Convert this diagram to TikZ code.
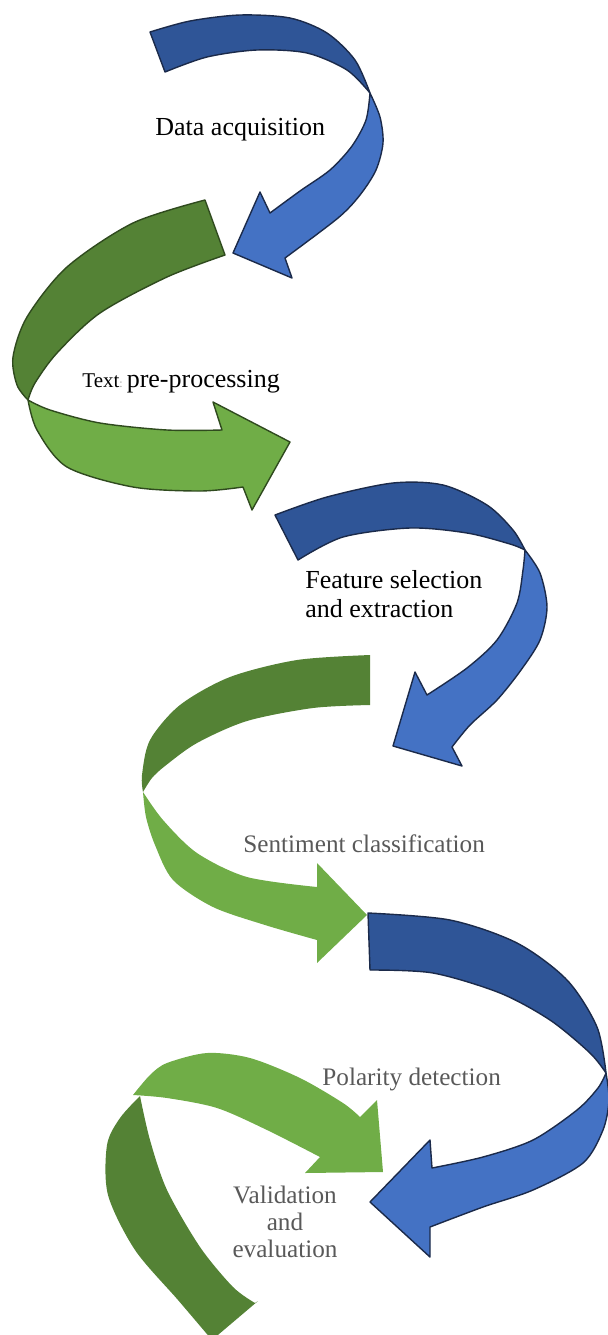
\documentclass[tikz,border=0pt]{standalone}
\usepackage{fontspec}
\setmainfont{Liberation Serif}
\newfontfamily\labelfont{Liberation Serif}
\definecolor{darkblue}{HTML}{2F5597}
\definecolor{lightblue}{HTML}{4472C4}
\definecolor{rimblue}{HTML}{1B2A4A}
\definecolor{darkgreen}{HTML}{548235}
\definecolor{lightgreen}{HTML}{70AD47}
\definecolor{rimgreen}{HTML}{2F4A1E}
\definecolor{labelgray}{HTML}{595959}
\begin{document}
\begin{tikzpicture}[x=0.5pt, y=-0.5pt, line join=round,
    backblue/.style={fill=darkblue, draw=rimblue, line width=0.7pt},
    frontblue/.style={fill=lightblue, draw=rimblue, line width=0.7pt},
    backgreen/.style={fill=darkgreen},
    frontgreen/.style={fill=lightgreen},
    rimmed/.style={draw=rimgreen, line width=0.7pt},
    lbl/.style={inner sep=0pt, font=\labelfont\fontsize{13}{14.5}\selectfont},
    graylbl/.style={lbl, text=labelgray, font=\labelfont\fontsize{12.6}{13.5}\selectfont}]
        \useasboundingbox (0,0) rectangle (608,1335);
        \clip (0,0) rectangle (608,1335);
        % data acquisition
        \filldraw [backblue] plot [smooth] coordinates {(150,32) (190,21) (240,15) (290,18) (327,33) (355,60) (370,93)}
            -- plot [smooth] coordinates {(370,93) (347,70) (307,53) (257,50) (207,57) (165,72)} -- cycle;
        \filldraw [frontblue] plot [smooth] coordinates {(370,93) (380,117) (383,143) (376,170) (360,195) (338,218) (285,258)}
            -- (292,278) -- (233,253) -- (260,192) -- (270,213)
            -- plot [smooth] coordinates {(270,213) (300,191) (330,170) (352,146) (366,120) (370,93)} -- cycle;
        % text pre-processing
        \filldraw [backgreen, rimmed] plot [smooth] coordinates {(205,200) (133,223) (67,267) (27,317) (13,357) (17,385) (28,400)}
            -- plot [smooth] coordinates {(28,400) (35,383) (57,353) (100,313) (167,277) (225,255)} -- cycle;
        \filldraw [frontgreen, rimmed] plot [smooth] coordinates {(28,400) (37,430) (67,467) (133,487) (200,491) (243,487)}
            -- (252,510) -- (290,442) -- (213,402) -- (222,430)
            -- plot [smooth] coordinates {(222,430) (167,430) (100,423) (50,410) (28,400)} -- cycle;
        % feature selection
        \filldraw [backblue] plot [smooth] coordinates {(275,515) (327,497) (393,483) (443,485) (487,505) (513,530) (525,550)}
            -- plot [smooth] coordinates {(525,550) (510,544) (467,533) (410,528) (343,537) (298,560)} -- cycle;
        \filldraw [frontblue] plot [smooth] coordinates {(525,550) (540,573) (547,607) (540,640) (521,670) (497,700) (470,725) (452,747)}
            -- (462,766) -- (393,746) -- (415,672) -- (427,695)
            -- plot [smooth] coordinates {(427,695) (467,668) (497,640) (517,603) (523,570) (525,550)} -- cycle;
        % sentiment classification
        \fill [backgreen] plot [smooth] coordinates {(370,655) (297,660) (230,677) (180,705) (150,740) (142,775) (143,792)}
            -- plot [smooth] coordinates {(143,792) (152,778) (165,766) (197,743) (247,721) (313,708) (370,705)} -- cycle;
        \fill [frontgreen] plot [smooth] coordinates {(143,792) (146,817) (155,845) (173,880) (213,907) (265,925) (317,940)}
            -- (317,963) -- (367,915) -- (317,863) -- (317,887)
            -- plot [smooth] coordinates {(317,887) (247,877) (197,853) (163,820) (143,792)} -- cycle;
        % polarity detection
        \filldraw [backblue] plot [smooth] coordinates {(368,913) (450,920) (517,943) (567,980) (597,1027) (606,1073)}
            -- plot [smooth] coordinates {(606,1073) (590,1053) (550,1020) (500,993) (433,973) (370,970)} -- cycle;
        \filldraw [frontblue] plot [smooth] coordinates {(606,1073) (609,1100) (603,1130) (583,1163) (533,1190) (483,1207) (430,1227)}
            -- (430,1257) -- (370,1202) -- (430,1140) -- (432,1168)
            -- plot [smooth] coordinates {(432,1168) (483,1157) (533,1140) (577,1110) (598,1088) (606,1073)} -- cycle;
        % validation and evaluation
        \fill [backgreen] plot [smooth] coordinates {(140,1096) (120,1118) (107,1145) (108,1195) (135,1250) (178,1300) (212,1340)}
            -- (258,1301)
            -- plot [smooth] coordinates {(255,1303) (233,1287) (200,1247) (167,1190) (150,1140) (140,1096)} -- cycle;
        \fill [frontgreen] plot [smooth] coordinates {(133,1095) (150,1075) (167,1063) (207,1053) (250,1058) (300,1078) (343,1103) (360,1117)}
            -- (377,1100) -- (383,1172) -- (305,1173) -- (320,1157)
            -- plot [smooth] coordinates {(320,1157) (267,1130) (217,1108) (167,1098) (133,1095)} -- cycle;
        % labels
        \node [lbl, anchor=base west] (acquisition) at (155,135) {Data acquisition};
        \node [lbl, anchor=base west] (preprocessing) at (82,387)
            {{\fontsize{10.5}{12}\selectfont Text}{\color{labelgray!60}\fontsize{6}{7}\selectfont:}\hspace{2pt}pre-processing};
        \node [lbl, anchor=north west, align=left] (extraction) at (305,570) {Feature selection\\and extraction};
        \node [graylbl, anchor=base west] (classification) at (243,852) {Sentiment classification};
        \node [graylbl, anchor=base west] (polarity) at (322,1085) {Polarity detection};
        \node [graylbl, anchor=north, align=center] (validation) at (285,1186) {Validation\\and\\evaluation};
\end{tikzpicture}
\end{document}
